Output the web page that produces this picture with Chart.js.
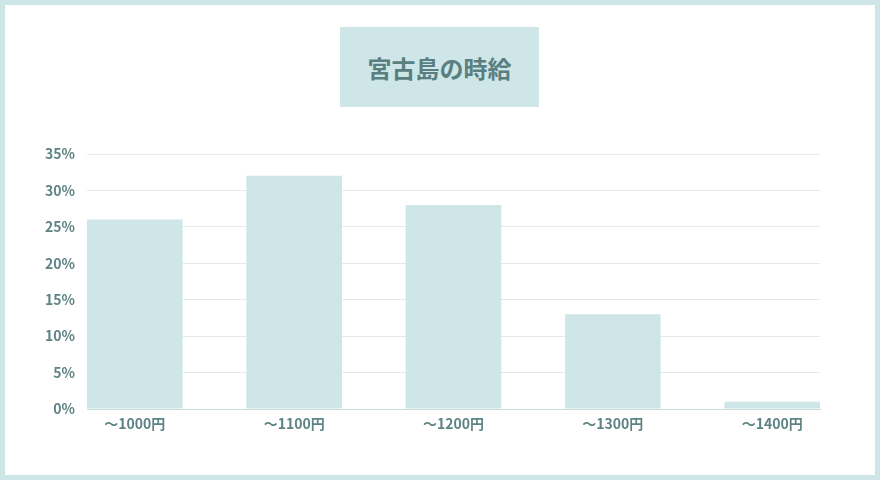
<!DOCTYPE html>
<html lang="ja">
<head>
<meta charset="utf-8">
<script src="https://cdn.jsdelivr.net/npm/chart.js@4"></script>
<style>
  body { margin: 0; background: #fff; }
  #frame {
    position: relative;
    width: 880px; height: 480px;
    box-sizing: border-box;
    border: 5px solid #cfe6e8;
    background: #fff;
  }
  #title {
    position: absolute;
    left: 335px; top: 22px;
    width: 199px; height: 80px;
    background: #cfe6e8;
    color: #5a7f80;
    font: bold 24px "Noto Sans CJK JP", sans-serif;
    display: flex; align-items: center; justify-content: center;
  }
  #box { position: absolute; left: -5px; top: -5px; width: 880px; height: 480px; }
</style>
</head>
<body>
<div id="frame">
  <div id="title">宮古島の時給</div>
  <div id="box"><canvas id="WageChart"></canvas></div>
</div>
<script>
const categories = ["〜1000円", "〜1100円", "〜1200円", "〜1300円", "〜1400円"];
const shares = [26, 32, 28, 13, 1];
const yTicks = [0, 5, 10, 15, 20, 25, 30, 35];

const textColor = "#5e8384";
const tickFont = { family: "Noto Sans CJK JP", size: 14, weight: "bold" };

function createChart(context) {
    return new Chart(context, {
        type: "bar",
        data: {
            datasets: [{
                data: shares.map((v, i) => ({ x: i, y: v })),
                backgroundColor: "#cfe6e8",
                borderWidth: 0,
                categoryPercentage: 1,
                barPercentage: 0.6
            }]
        },
        options: {
            responsive: false,
            animation: false,
            layout: { padding: { top: 154, right: 60, left: 0, bottom: 0 } },
            plugins: { legend: { display: false }, tooltip: { enabled: false } },
            scales: {
                x: {
                    type: "linear",
                    offset: false,
                    min: -0.3,
                    max: 4.3,
                    grid: { display: false, drawTicks: false, offset: false },
                    border: { display: true, color: "#c6dcdd", width: 1 },
                    ticks: {
                        stepSize: 1,
                        includeBounds: false,
                        padding: 6,
                        color: textColor,
                        font: tickFont,
                        callback: v => categories[v] ?? ""
                    },
                    afterFit: scale => { scale.height = 71; }
                },
                y: {
                    min: yTicks[0],
                    max: yTicks[yTicks.length - 1],
                    grid: { color: "#e2ebeb", drawTicks: false },
                    border: { display: false },
                    ticks: {
                        stepSize: 5,
                        padding: 12,
                        color: textColor,
                        font: tickFont,
                        callback: v => v + "%"
                    },
                    afterFit: scale => { scale.width = 87; }
                }
            }
        }
    });
}

const canvas = document.getElementById("WageChart");
canvas.width = 880;
canvas.height = 480;
createChart(canvas.getContext("2d"));
</script>
</body>
</html>
